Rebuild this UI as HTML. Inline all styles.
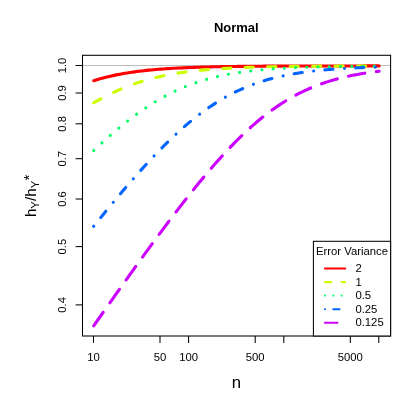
<!DOCTYPE html>
<html><head><meta charset="utf-8"><title>Normal</title>
<style>
html,body{margin:0;padding:0;background:#fff;}
svg{display:block;will-change:transform;}
text{font-family:"Liberation Sans",sans-serif;fill:#000;}
</style></head><body>
<svg width="405" height="405" viewBox="0 0 405 405">
<rect x="0" y="0" width="405" height="405" fill="#fff"/>
<line x1="82.5" y1="65.5" x2="390.6" y2="65.5" stroke="#BEBEBE" stroke-width="1.04"/>
<path d="M93.70 80.69 L96.10 79.95 L98.50 79.24 L100.89 78.56 L103.29 77.92 L105.69 77.30 L108.09 76.71 L110.49 76.15 L112.89 75.62 L115.28 75.11 L117.68 74.63 L120.08 74.17 L122.48 73.73 L124.88 73.32 L127.28 72.92 L129.67 72.55 L132.07 72.19 L134.47 71.85 L136.87 71.53 L139.27 71.23 L141.67 70.94 L144.06 70.67 L146.46 70.41 L148.86 70.16 L151.26 69.93 L153.66 69.71 L156.06 69.50 L158.45 69.30 L160.85 69.12 L163.25 68.94 L165.65 68.77 L168.05 68.61 L170.45 68.46 L172.84 68.32 L175.24 68.19 L177.64 68.06 L180.04 67.94 L182.44 67.83 L184.84 67.72 L187.23 67.62 L189.63 67.52 L192.03 67.43 L194.43 67.35 L196.83 67.27 L199.23 67.19 L201.62 67.12 L204.02 67.05 L206.42 66.99 L208.82 66.93 L211.22 66.87 L213.62 66.81 L216.01 66.76 L218.41 66.71 L220.81 66.67 L223.21 66.63 L225.61 66.58 L228.01 66.55 L230.40 66.51 L232.80 66.48 L235.20 66.44 L237.60 66.41 L240.00 66.38 L242.40 66.36 L244.79 66.33 L247.19 66.31 L249.59 66.28 L251.99 66.26 L254.39 66.24 L256.79 66.22 L259.18 66.20 L261.58 66.19 L263.98 66.17 L266.38 66.16 L268.78 66.14 L271.18 66.13 L273.57 66.12 L275.97 66.10 L278.37 66.09 L280.77 66.08 L283.17 66.07 L285.57 66.06 L287.96 66.05 L290.36 66.04 L292.76 66.04 L295.16 66.03 L297.56 66.02 L299.96 66.01 L302.35 66.01 L304.75 66.00 L307.15 66.00 L309.55 65.99 L311.95 65.98 L314.35 65.98 L316.74 65.98 L319.14 65.97 L321.54 65.97 L323.94 65.96 L326.34 65.96 L328.74 65.96 L331.13 65.95 L333.53 65.95 L335.93 65.95 L338.33 65.94 L340.73 65.94 L343.13 65.94 L345.52 65.94 L347.92 65.94 L350.32 65.93 L352.72 65.93 L355.12 65.93 L357.52 65.93 L359.91 65.93 L362.31 65.93 L364.71 65.92 L367.11 65.92 L369.51 65.92 L371.91 65.92 L374.30 65.92 L376.70 65.92 L379.10 65.92" fill="none" stroke="#FF0000" stroke-width="3.10" stroke-linecap="round" stroke-linejoin="round"/>
<path d="M93.70 102.78 L96.10 101.40 L98.50 100.05 L100.89 98.73 L103.29 97.45 L105.69 96.20 L108.09 94.99 L110.49 93.81 L112.89 92.66 L115.28 91.55 L117.68 90.47 L120.08 89.42 L122.48 88.41 L124.88 87.43 L127.28 86.48 L129.67 85.57 L132.07 84.68 L134.47 83.83 L136.87 83.01 L139.27 82.22 L141.67 81.46 L144.06 80.73 L146.46 80.03 L148.86 79.36 L151.26 78.71 L153.66 78.09 L156.06 77.50 L158.45 76.93 L160.85 76.38 L163.25 75.86 L165.65 75.36 L168.05 74.89 L170.45 74.43 L172.84 74.00 L175.24 73.59 L177.64 73.19 L180.04 72.82 L182.44 72.46 L184.84 72.12 L187.23 71.80 L189.63 71.49 L192.03 71.19 L194.43 70.91 L196.83 70.65 L199.23 70.40 L201.62 70.16 L204.02 69.93 L206.42 69.72 L208.82 69.51 L211.22 69.32 L213.62 69.13 L216.01 68.96 L218.41 68.79 L220.81 68.64 L223.21 68.49 L225.61 68.35 L228.01 68.21 L230.40 68.09 L232.80 67.97 L235.20 67.86 L237.60 67.75 L240.00 67.65 L242.40 67.55 L244.79 67.46 L247.19 67.38 L249.59 67.29 L251.99 67.22 L254.39 67.14 L256.79 67.08 L259.18 67.01 L261.58 66.95 L263.98 66.89 L266.38 66.84 L268.78 66.78 L271.18 66.74 L273.57 66.69 L275.97 66.65 L278.37 66.60 L280.77 66.57 L283.17 66.53 L285.57 66.49 L287.96 66.46 L290.36 66.43 L292.76 66.40 L295.16 66.37 L297.56 66.35 L299.96 66.32 L302.35 66.30 L304.75 66.28 L307.15 66.25 L309.55 66.23 L311.95 66.22 L314.35 66.20 L316.74 66.18 L319.14 66.17 L321.54 66.15 L323.94 66.14 L326.34 66.12 L328.74 66.11 L331.13 66.10 L333.53 66.09 L335.93 66.08 L338.33 66.07 L340.73 66.06 L343.13 66.05 L345.52 66.04 L347.92 66.03 L350.32 66.03 L352.72 66.02 L355.12 66.01 L357.52 66.01 L359.91 66.00 L362.31 65.99 L364.71 65.99 L367.11 65.98 L369.51 65.98 L371.91 65.98 L374.30 65.97 L376.70 65.97 L379.10 65.96" fill="none" stroke="#CCFF00" stroke-width="3.10" stroke-linecap="round" stroke-linejoin="round" stroke-dasharray="8.14 14.34"/>
<path d="M93.70 150.52 L96.10 148.26 L98.50 146.03 L100.89 143.83 L103.29 141.64 L105.69 139.48 L108.09 137.35 L110.49 135.24 L112.89 133.16 L115.28 131.11 L117.68 129.09 L120.08 127.09 L122.48 125.13 L124.88 123.20 L127.28 121.30 L129.67 119.44 L132.07 117.61 L134.47 115.81 L136.87 114.05 L139.27 112.32 L141.67 110.63 L144.06 108.98 L146.46 107.37 L148.86 105.79 L151.26 104.25 L153.66 102.75 L156.06 101.29 L158.45 99.87 L160.85 98.49 L163.25 97.15 L165.65 95.84 L168.05 94.58 L170.45 93.35 L172.84 92.17 L175.24 91.02 L177.64 89.91 L180.04 88.84 L182.44 87.80 L184.84 86.80 L187.23 85.84 L189.63 84.92 L192.03 84.02 L194.43 83.17 L196.83 82.35 L199.23 81.56 L201.62 80.80 L204.02 80.07 L206.42 79.38 L208.82 78.71 L211.22 78.07 L213.62 77.46 L216.01 76.88 L218.41 76.32 L220.81 75.79 L223.21 75.29 L225.61 74.80 L228.01 74.34 L230.40 73.90 L232.80 73.49 L235.20 73.09 L237.60 72.71 L240.00 72.35 L242.40 72.01 L244.79 71.68 L247.19 71.38 L249.59 71.08 L251.99 70.80 L254.39 70.54 L256.79 70.29 L259.18 70.05 L261.58 69.83 L263.98 69.61 L266.38 69.41 L268.78 69.22 L271.18 69.04 L273.57 68.87 L275.97 68.70 L278.37 68.55 L280.77 68.40 L283.17 68.27 L285.57 68.13 L287.96 68.01 L290.36 67.89 L292.76 67.78 L295.16 67.68 L297.56 67.58 L299.96 67.49 L302.35 67.40 L304.75 67.32 L307.15 67.24 L309.55 67.16 L311.95 67.09 L314.35 67.02 L316.74 66.96 L319.14 66.90 L321.54 66.85 L323.94 66.79 L326.34 66.74 L328.74 66.70 L331.13 66.65 L333.53 66.61 L335.93 66.57 L338.33 66.53 L340.73 66.50 L343.13 66.46 L345.52 66.43 L347.92 66.40 L350.32 66.37 L352.72 66.35 L355.12 66.32 L357.52 66.30 L359.91 66.28 L362.31 66.25 L364.71 66.23 L367.11 66.22 L369.51 66.20 L371.91 66.18 L374.30 66.16 L376.70 66.15 L379.10 66.14" fill="none" stroke="#00FF66" stroke-width="3.10" stroke-linecap="round" stroke-linejoin="round" stroke-dasharray="0.01 11.23"/>
<path d="M93.70 226.27 L96.10 223.29 L98.50 220.32 L100.89 217.36 L103.29 214.42 L105.69 211.48 L108.09 208.56 L110.49 205.65 L112.89 202.75 L115.28 199.87 L117.68 197.01 L120.08 194.15 L122.48 191.32 L124.88 188.50 L127.28 185.71 L129.67 182.93 L132.07 180.17 L134.47 177.43 L136.87 174.71 L139.27 172.01 L141.67 169.34 L144.06 166.69 L146.46 164.07 L148.86 161.47 L151.26 158.90 L153.66 156.35 L156.06 153.84 L158.45 151.36 L160.85 148.90 L163.25 146.48 L165.65 144.09 L168.05 141.73 L170.45 139.41 L172.84 137.12 L175.24 134.87 L177.64 132.66 L180.04 130.48 L182.44 128.34 L184.84 126.24 L187.23 124.19 L189.63 122.17 L192.03 120.19 L194.43 118.26 L196.83 116.37 L199.23 114.52 L201.62 112.71 L204.02 110.95 L206.42 109.23 L208.82 107.56 L211.22 105.93 L213.62 104.35 L216.01 102.81 L218.41 101.31 L220.81 99.86 L223.21 98.45 L225.61 97.09 L228.01 95.77 L230.40 94.49 L232.80 93.25 L235.20 92.06 L237.60 90.91 L240.00 89.80 L242.40 88.73 L244.79 87.69 L247.19 86.70 L249.59 85.74 L251.99 84.83 L254.39 83.94 L256.79 83.10 L259.18 82.28 L261.58 81.50 L263.98 80.76 L266.38 80.04 L268.78 79.35 L271.18 78.70 L273.57 78.07 L275.97 77.47 L278.37 76.90 L280.77 76.35 L283.17 75.83 L285.57 75.33 L287.96 74.86 L290.36 74.41 L292.76 73.97 L295.16 73.56 L297.56 73.17 L299.96 72.80 L302.35 72.44 L304.75 72.11 L307.15 71.79 L309.55 71.48 L311.95 71.19 L314.35 70.92 L316.74 70.65 L319.14 70.40 L321.54 70.17 L323.94 69.94 L326.34 69.73 L328.74 69.53 L331.13 69.34 L333.53 69.16 L335.93 68.98 L338.33 68.82 L340.73 68.66 L343.13 68.52 L345.52 68.38 L347.92 68.25 L350.32 68.12 L352.72 68.00 L355.12 67.89 L357.52 67.78 L359.91 67.68 L362.31 67.59 L364.71 67.50 L367.11 67.41 L369.51 67.33 L371.91 67.25 L374.30 67.18 L376.70 67.11 L379.10 67.05" fill="none" stroke="#0066FF" stroke-width="3.10" stroke-linecap="round" stroke-linejoin="round" stroke-dasharray="0.01 11.23 8.14 11.53"/>
<path d="M93.70 325.83 L96.10 322.41 L98.50 318.99 L100.89 315.57 L103.29 312.16 L105.69 308.75 L108.09 305.34 L110.49 301.94 L112.89 298.55 L115.28 295.15 L117.68 291.77 L120.08 288.39 L122.48 285.01 L124.88 281.64 L127.28 278.28 L129.67 274.92 L132.07 271.57 L134.47 268.23 L136.87 264.89 L139.27 261.57 L141.67 258.25 L144.06 254.94 L146.46 251.64 L148.86 248.35 L151.26 245.07 L153.66 241.80 L156.06 238.54 L158.45 235.30 L160.85 232.07 L163.25 228.85 L165.65 225.64 L168.05 222.45 L170.45 219.27 L172.84 216.11 L175.24 212.96 L177.64 209.84 L180.04 206.73 L182.44 203.64 L184.84 200.56 L187.23 197.51 L189.63 194.48 L192.03 191.47 L194.43 188.49 L196.83 185.53 L199.23 182.59 L201.62 179.68 L204.02 176.80 L206.42 173.94 L208.82 171.11 L211.22 168.31 L213.62 165.54 L216.01 162.81 L218.41 160.10 L220.81 157.43 L223.21 154.80 L225.61 152.20 L228.01 149.63 L230.40 147.11 L232.80 144.62 L235.20 142.17 L237.60 139.76 L240.00 137.40 L242.40 135.07 L244.79 132.79 L247.19 130.55 L249.59 128.35 L251.99 126.20 L254.39 124.10 L256.79 122.04 L259.18 120.02 L261.58 118.05 L263.98 116.13 L266.38 114.26 L268.78 112.43 L271.18 110.65 L273.57 108.92 L275.97 107.24 L278.37 105.60 L280.77 104.01 L283.17 102.47 L285.57 100.98 L287.96 99.53 L290.36 98.13 L292.76 96.77 L295.16 95.46 L297.56 94.19 L299.96 92.96 L302.35 91.78 L304.75 90.64 L307.15 89.54 L309.55 88.49 L311.95 87.47 L314.35 86.49 L316.74 85.55 L319.14 84.64 L321.54 83.78 L323.94 82.94 L326.34 82.14 L328.74 81.38 L331.13 80.64 L333.53 79.94 L335.93 79.27 L338.33 78.63 L340.73 78.01 L343.13 77.42 L345.52 76.86 L347.92 76.32 L350.32 75.81 L352.72 75.32 L355.12 74.86 L357.52 74.41 L359.91 73.99 L362.31 73.58 L364.71 73.20 L367.11 72.83 L369.51 72.48 L371.91 72.15 L374.30 71.83 L376.70 71.53 L379.10 71.24" fill="none" stroke="#CC00FF" stroke-width="3.10" stroke-linecap="round" stroke-linejoin="round" stroke-dasharray="16.57 11.53"/>
<rect x="82.50" y="55.30" width="308.10" height="280.70" fill="none" stroke="#000" stroke-width="1.04"/>
<line x1="93.50" y1="336.00" x2="93.50" y2="342.90" stroke="#000" stroke-width="1.04"/>
<line x1="160.00" y1="336.00" x2="160.00" y2="342.90" stroke="#000" stroke-width="1.04"/>
<line x1="188.60" y1="336.00" x2="188.60" y2="342.90" stroke="#000" stroke-width="1.04"/>
<line x1="255.20" y1="336.00" x2="255.20" y2="342.90" stroke="#000" stroke-width="1.04"/>
<line x1="283.80" y1="336.00" x2="283.80" y2="342.90" stroke="#000" stroke-width="1.04"/>
<line x1="350.30" y1="336.00" x2="350.30" y2="342.90" stroke="#000" stroke-width="1.04"/>
<line x1="378.80" y1="336.00" x2="378.80" y2="342.90" stroke="#000" stroke-width="1.04"/>
<text x="93.50" y="360.5" font-size="11.3" text-anchor="middle">10</text>
<text x="160.00" y="360.5" font-size="11.3" text-anchor="middle">50</text>
<text x="188.60" y="360.5" font-size="11.3" text-anchor="middle">100</text>
<text x="255.20" y="360.5" font-size="11.3" text-anchor="middle">500</text>
<text x="350.30" y="360.5" font-size="11.3" text-anchor="middle">5000</text>
<line x1="75.60" y1="65.50" x2="82.50" y2="65.50" stroke="#000" stroke-width="1.04"/>
<text transform="translate(66.3 65.50) rotate(-90)" font-size="11.3" text-anchor="middle">1.0</text>
<line x1="75.60" y1="93.00" x2="82.50" y2="93.00" stroke="#000" stroke-width="1.04"/>
<text transform="translate(66.3 93.00) rotate(-90)" font-size="11.3" text-anchor="middle">0.9</text>
<line x1="75.60" y1="123.80" x2="82.50" y2="123.80" stroke="#000" stroke-width="1.04"/>
<text transform="translate(66.3 123.80) rotate(-90)" font-size="11.3" text-anchor="middle">0.8</text>
<line x1="75.60" y1="158.70" x2="82.50" y2="158.70" stroke="#000" stroke-width="1.04"/>
<text transform="translate(66.3 158.70) rotate(-90)" font-size="11.3" text-anchor="middle">0.7</text>
<line x1="75.60" y1="199.00" x2="82.50" y2="199.00" stroke="#000" stroke-width="1.04"/>
<text transform="translate(66.3 199.00) rotate(-90)" font-size="11.3" text-anchor="middle">0.6</text>
<line x1="75.60" y1="246.60" x2="82.50" y2="246.60" stroke="#000" stroke-width="1.04"/>
<text transform="translate(66.3 246.60) rotate(-90)" font-size="11.3" text-anchor="middle">0.5</text>
<line x1="75.60" y1="304.90" x2="82.50" y2="304.90" stroke="#000" stroke-width="1.04"/>
<text transform="translate(66.3 304.90) rotate(-90)" font-size="11.3" text-anchor="middle">0.4</text>
<text x="236.3" y="31.9" font-size="13" font-weight="bold" text-anchor="middle">Normal</text>
<text x="236.5" y="387.6" font-size="16.7" text-anchor="middle">n</text>
<text transform="translate(35.7 195.8) rotate(-90)" font-size="15.2" text-anchor="middle">h<tspan font-size="11.4" dy="3.3">Y</tspan><tspan dy="-3.3">/h</tspan><tspan font-size="11.4" dy="3.3">Y</tspan><tspan dy="-4.8" dx="0.3">*</tspan></text>
<rect x="313.40" y="241.30" width="77.20" height="94.70" fill="#fff" stroke="#000" stroke-width="1.04"/>
<text x="352.0" y="255.2" font-size="11.3" text-anchor="middle">Error Variance</text>
<path d="M325.0 268.50 L345.2 268.50" fill="none" stroke="#FF0000" stroke-width="2.08" stroke-linecap="round"/>
<text x="355.4" y="272.20" font-size="11.3">2</text>
<path d="M325.0 282.10 L345.2 282.10" fill="none" stroke="#CCFF00" stroke-width="2.08" stroke-linecap="round" stroke-dasharray="6.24 10.40"/>
<text x="355.4" y="285.80" font-size="11.3">1</text>
<path d="M325.0 295.60 L345.2 295.60" fill="none" stroke="#00FF66" stroke-width="2.08" stroke-linecap="round" stroke-dasharray="0.01 8.31"/>
<text x="355.4" y="299.30" font-size="11.3">0.5</text>
<path d="M325.0 309.20 L345.2 309.20" fill="none" stroke="#0066FF" stroke-width="2.08" stroke-linecap="round" stroke-dasharray="0.01 8.31 6.24 8.32"/>
<text x="355.4" y="312.90" font-size="11.3">0.25</text>
<path d="M325.0 322.70 L345.2 322.70" fill="none" stroke="#CC00FF" stroke-width="2.08" stroke-linecap="round" stroke-dasharray="12.48 8.32"/>
<text x="355.4" y="326.40" font-size="11.3">0.125</text>
</svg></body></html>
